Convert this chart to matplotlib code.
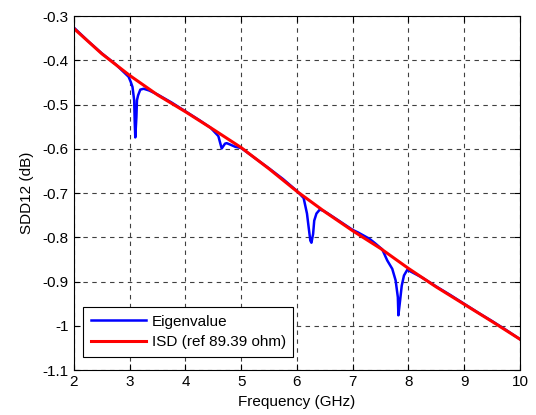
import matplotlib
matplotlib.use('Agg')
import matplotlib.pyplot as plt

# ISD reference curve
isd_f = [2.0, 2.5, 3.0, 3.5, 4.0, 4.5, 5.0, 5.5, 6.0, 6.5, 7.0, 7.5, 8.0, 8.5, 9.0, 9.5, 10.0]
isd_db = [-0.328, -0.385, -0.434, -0.478, -0.516, -0.556, -0.597, -0.645, -0.696,
          -0.742, -0.785, -0.825, -0.870, -0.912, -0.951, -0.990, -1.030]

# eigenvalue curve (with resonance dips)
eig_f = [2.0, 2.25, 2.5, 2.75, 2.98, 3.02, 3.05, 3.08, 3.09, 3.10, 3.12, 3.13, 3.15, 3.19,
         3.25, 3.35, 3.5, 3.75, 4.0, 4.25, 4.45, 4.59, 4.65, 4.71, 4.74, 4.8, 4.89, 5.0,
         5.25, 5.5, 5.75, 6.0, 6.12, 6.18, 6.21, 6.24, 6.26, 6.29, 6.31, 6.35, 6.41, 6.48,
         6.57, 6.75, 7.0, 7.1, 7.2, 7.3, 7.4, 7.53, 7.62, 7.71, 7.77, 7.81, 7.82, 7.85,
         7.88, 7.92, 7.98, 8.25, 8.5, 8.75, 9.0, 9.25, 9.5, 9.75, 10.0]
eig_db = [-0.326, -0.356, -0.384, -0.409, -0.437, -0.449, -0.460, -0.490, -0.540, -0.574,
          -0.528, -0.490, -0.479, -0.466, -0.464, -0.468, -0.477, -0.495, -0.515, -0.535,
          -0.552, -0.571, -0.599, -0.588, -0.587, -0.590, -0.595, -0.598, -0.621, -0.644,
          -0.668, -0.695, -0.711, -0.746, -0.777, -0.807, -0.812, -0.792, -0.762, -0.746,
          -0.737, -0.740, -0.747, -0.762, -0.783, -0.789, -0.796, -0.803, -0.813, -0.827,
          -0.852, -0.871, -0.897, -0.935, -0.976, -0.943, -0.909, -0.886, -0.873, -0.891,
          -0.911, -0.930, -0.950, -0.970, -0.989, -1.009, -1.030]

xticks = [2, 3, 4, 5, 6, 7, 8, 9, 10]
yticks = [-1.1, -1.0, -0.9, -0.8, -0.7, -0.6, -0.5, -0.4, -0.3]
ylabels = ['-1.1', '-1', '-0.9', '-0.8', '-0.7', '-0.6', '-0.5', '-0.4', '-0.3']

plt.rcParams['font.family'] = ['Liberation Sans', 'DejaVu Sans']
plt.rcParams['font.size'] = 11

fig = plt.figure(figsize=(5.36, 4.15), dpi=100)
ax = fig.add_axes([0.138, 0.108, 0.832, 0.853])

ax.plot(eig_f, eig_db, color='#0000ff', lw=1.8, label='Eigenvalue')
ax.plot(isd_f, isd_db, color='#ff0000', lw=2.2, label='ISD (ref 89.39 ohm)')

ax.set_xlim(2, 10)
ax.set_ylim(-1.1, -0.3)
ax.set_xticks(xticks)
ax.set_yticks(yticks)
ax.set_yticklabels(ylabels)
ax.tick_params(direction='in', top=True, right=True, length=4, width=0.8, colors='black')
ax.tick_params(axis='y', pad=4)
ax.grid(True, color='0.25', linestyle=(0, (4, 4)), linewidth=0.8)
for s in ax.spines.values():
    s.set_linewidth(0.8)

ax.set_xlabel('Frequency (GHz)', labelpad=4)
ax.set_ylabel('SDD12 (dB)', labelpad=6)

leg = ax.legend(loc='lower left', bbox_to_anchor=(0.02, 0.037), fancybox=False,
                edgecolor='black', framealpha=1, handlelength=3.6, handletextpad=0.4,
                borderpad=0.5, labelspacing=0.45, borderaxespad=0)
leg.get_frame().set_linewidth(0.8)

fig.savefig('out.png', dpi=100)
